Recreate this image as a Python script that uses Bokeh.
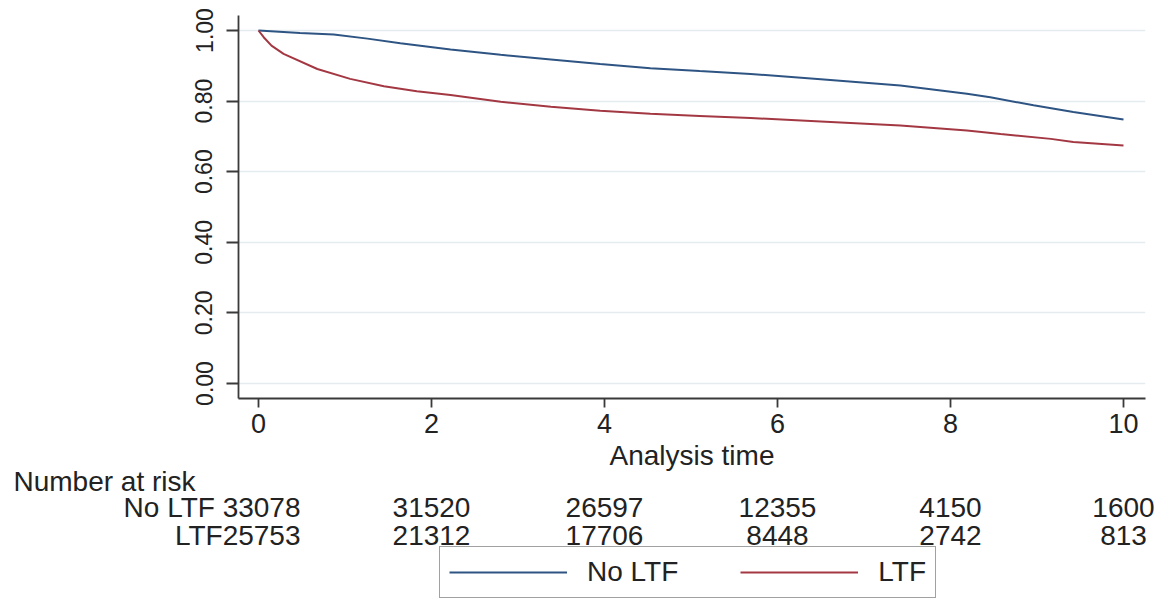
import numpy as np
from bokeh.plotting import figure
from bokeh.models import (Range1d, FixedTicker, NumeralTickFormatter, ColumnDataSource,
                          Legend, LegendItem)
from bokeh.core.properties import value
from bokeh.embed import file_html
from bokeh.resources import INLINE

# ---- data ----
time_no_ltf = [0, 0.48, 0.87, 1.26, 1.64, 2.22, 2.8, 3.38, 3.95, 4.53, 5.1, 5.69, 6.5,
               7.42, 8.19, 8.46, 8.96, 9.42, 10.0]
surv_no_ltf = [1.0, 0.993, 0.989, 0.977, 0.964, 0.946, 0.931, 0.918, 0.905, 0.893, 0.885,
               0.877, 0.862, 0.844, 0.821, 0.811, 0.788, 0.769, 0.748]
time_ltf = [0, 0.06, 0.15, 0.29, 0.68, 1.06, 1.45, 1.83, 2.22, 2.8, 3.38, 3.95, 4.53, 5.1,
            5.69, 6.5, 7.42, 8.19, 8.58, 9.16, 9.42, 10.0]
surv_ltf = [1.0, 0.981, 0.957, 0.934, 0.891, 0.863, 0.842, 0.828, 0.817, 0.798, 0.784,
            0.773, 0.764, 0.758, 0.752, 0.742, 0.731, 0.717, 0.707, 0.693, 0.684, 0.674]

risk_times = [0, 2, 4, 6, 8, 10]
risk_no_ltf = [33078, 31520, 26597, 12355, 4150, 1600]
risk_ltf = [25753, 21312, 17706, 8448, 2742, 813]
row_labels = ["No LTF ", "LTF"]
series_names = ["No LTF", "LTF"]
risk_title = "Number at risk"
x_title = "Analysis time"
x_ticks = [0, 2, 4, 6, 8, 10]
y_ticks = [0, 0.2, 0.4, 0.6, 0.8, 1.0]

# ---- layout constants (pixels) ----
FONT = "Liberation Sans"
TXT = "#222222"
AX = "#3a3a3a"
BLUE = "#2e5483"
RED = "#a33843"
W = 1170
FRAME_L, FRAME_R = 238, 1145
X0_PX, PX_PER_X = 258.0, 86.5          # pixel of x=0 and pixels per unit
FRAME_T, FRAME_B = 15, 398
Y0_PX, PX_PER_Y = 383.0, 353.0          # pixel of y=0 and pixels per unit
TOP_H = 440
BOT_H = 160
FS = "28px"

def px_to_x(px):
    return (px - X0_PX) / PX_PER_X

def px_to_y(py):
    return (Y0_PX - py) / PX_PER_Y

# ---------------- top: survival curves ----------------
p = figure(width=W, height=TOP_H, output_backend="svg", toolbar_location=None,
           x_range=Range1d(px_to_x(FRAME_L), px_to_x(FRAME_R)),
           y_range=Range1d(px_to_y(FRAME_B), px_to_y(FRAME_T)),
           min_border_left=FRAME_L, min_border_right=W - FRAME_R,
           min_border_top=FRAME_T, min_border_bottom=TOP_H - FRAME_B)
p.outline_line_color = None
p.background_fill_color = "white"
p.border_fill_color = "white"
p.xgrid.grid_line_color = None
p.ygrid.grid_line_color = "#e4ecef"
p.ygrid.grid_line_width = 1.5

for ax in (p.xaxis[0], p.yaxis[0]):
    ax.axis_line_color = AX
    ax.axis_line_width = 1.8
    ax.major_tick_line_color = AX
    ax.major_tick_line_width = 1.8
    ax.major_tick_in = 0
    ax.minor_tick_line_color = None
    ax.major_label_text_font = FONT
    ax.major_label_text_color = TXT

p.xaxis.ticker = FixedTicker(ticks=x_ticks)
p.xaxis.major_tick_out = 9
p.xaxis.major_label_text_font_size = "27px"
p.xaxis.major_label_standoff = 6

p.yaxis.ticker = FixedTicker(ticks=y_ticks)
p.yaxis.formatter = NumeralTickFormatter(format="0.00")
p.yaxis.major_label_orientation = "vertical"
p.yaxis.major_tick_out = 12
p.yaxis.major_label_text_font_size = "23px"
p.yaxis.major_label_standoff = 14

p.line(time_no_ltf, surv_no_ltf, line_color=BLUE, line_width=2)
p.line(time_ltf, surv_ltf, line_color=RED, line_width=2)

# ---------------- bottom: axis title, number at risk, legend ----------------
q = figure(width=W, height=BOT_H, output_backend="svg", toolbar_location=None,
           x_range=Range1d(px_to_x(0), px_to_x(W)), y_range=Range1d(BOT_H, 0),
           x_axis_location=None, y_axis_location=None,
           min_border=0, min_border_left=0, min_border_right=0,
           min_border_top=0, min_border_bottom=0)
q.outline_line_color = None
q.grid.grid_line_color = None
q.background_fill_color = "white"
q.border_fill_color = "white"

def yb(py):
    return py - TOP_H

text_kw = dict(text_font=value(FONT), text_font_size=FS, text_color=TXT,
               text_baseline="middle")

q.text(x=[(px_to_x(FRAME_L) + px_to_x(FRAME_R)) / 2], y=[yb(455)], text=[x_title],
       text_align="center", **text_kw)
q.text(x=[px_to_x(13)], y=[yb(481)], text=[risk_title], text_align="left", **text_kw)

row_y = [yb(507), yb(535)]
first_x = px_to_x(300)
for lab, vals, yy in zip(row_labels, [risk_no_ltf, risk_ltf], row_y):
    q.text(x=[first_x], y=[yy], text=[f"{lab}{vals[0]}"], text_align="right", **text_kw)
    src = ColumnDataSource(dict(x=risk_times[1:], y=[yy] * (len(vals) - 1),
                                t=[str(v) for v in vals[1:]]))
    q.text(x="x", y="y", text="t", source=src, text_align="center", **text_kw)

# legend proxies (nothing drawn in the frame)
k1 = q.line([np.nan], [np.nan], line_color=BLUE, line_width=2)
k2 = q.line([np.nan], [np.nan], line_color=RED, line_width=2)
legend = Legend(items=[LegendItem(label=series_names[0], renderers=[k1]),
                       LegendItem(label=series_names[1], renderers=[k2])],
                orientation="horizontal", location=(439, BOT_H - yb(598)), margin=0,
                padding=9, spacing=62, glyph_width=118, glyph_height=20, label_standoff=20,
                label_text_font=FONT, label_text_font_size=FS, label_text_color=TXT,
                border_line_color="#444444", border_line_width=1.5,
                background_fill_color="white", background_fill_alpha=1.0)
q.add_layout(legend)

open("out.html", "w").write(file_html([p, q], INLINE))
